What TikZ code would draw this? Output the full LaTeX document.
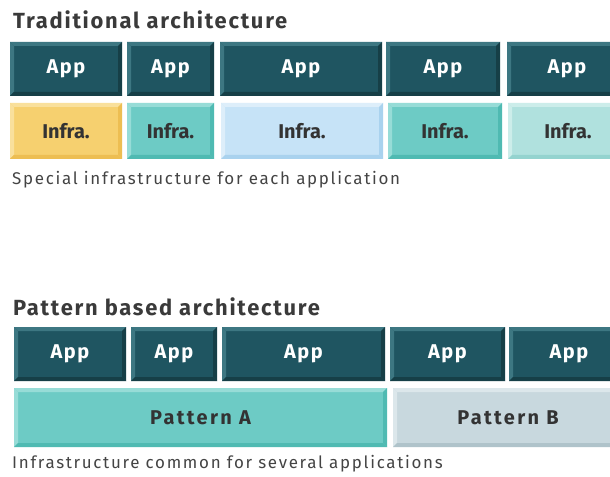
\documentclass[tikz,border=0pt]{standalone}
\usepackage{fontspec}
\setmainfont{Fira Sans}
\begin{document}
\begin{tikzpicture}[x=1bp,y=-1bp,
  bev/.style n args={3}{fill=#1, path picture={
    \fill[#2] (path picture bounding box.north west) -- (path picture bounding box.north east)
      -- ([xshift=-4bp,yshift=-4bp]path picture bounding box.north east)
      -- ([xshift=4bp,yshift=-4bp]path picture bounding box.north west) -- cycle;
    \fill[#2] (path picture bounding box.north west) -- ([xshift=4bp,yshift=-4bp]path picture bounding box.north west)
      -- ([xshift=4bp,yshift=4bp]path picture bounding box.south west)
      -- (path picture bounding box.south west) -- cycle;
    \fill[#3] (path picture bounding box.south west) -- (path picture bounding box.south east)
      -- ([xshift=-4bp,yshift=4bp]path picture bounding box.south east)
      -- ([xshift=4bp,yshift=4bp]path picture bounding box.south west) -- cycle;
    \fill[#3] (path picture bounding box.north east) -- ([xshift=-4bp,yshift=-4bp]path picture bounding box.north east)
      -- ([xshift=-4bp,yshift=4bp]path picture bounding box.south east)
      -- (path picture bounding box.south east) -- cycle;
  }},
  blk/.style={anchor=north west, inner sep=0pt, outer sep=0pt},
  app/.style={blk, bev={appc}{appl}{appd}, text=white, font=\bfseries\fontsize{20}{20}\selectfont\addfontfeature{LetterSpace=8}},
  infra/.style={blk, text=txt, font=\bfseries\fontsize{20}{20}\selectfont},
  pat/.style={blk, text=txt, font=\bfseries\fontsize{20}{20}\selectfont\addfontfeature{LetterSpace=12}},
  title/.style={anchor=west, inner sep=0pt, text=ttl, font=\bfseries\fontsize{22}{22}\selectfont\addfontfeature{LetterSpace=8}},
  caption/.style={anchor=west, inner sep=0pt, text=cap, font=\fontsize{17}{17}\selectfont\addfontfeature{LetterSpace=10}},
]
\definecolor{appc}{HTML}{1F5561}
\definecolor{appl}{HTML}{3D7782}
\definecolor{appd}{HTML}{163F47}
\definecolor{yel}{HTML}{F6D06F}\definecolor{yell}{HTML}{F9E09C}\definecolor{yeld}{HTML}{EDBE52}
\definecolor{tea}{HTML}{6DCBC5}\definecolor{teal}{HTML}{97DCD7}\definecolor{tead}{HTML}{4FBAB2}
\definecolor{blu}{HTML}{C6E3F7}\definecolor{blul}{HTML}{DDEEFA}\definecolor{blud}{HTML}{A9D2EE}
\definecolor{ltt}{HTML}{B0E1DE}\definecolor{lttl}{HTML}{CCEDEA}\definecolor{lttd}{HTML}{94D3CF}
\definecolor{gry}{HTML}{C8D8DE}\definecolor{gryl}{HTML}{DCE7EB}\definecolor{gryd}{HTML}{AFC3CA}
\definecolor{txt}{HTML}{333333}
\definecolor{ttl}{HTML}{3A3A3A}
\definecolor{cap}{HTML}{444444}
\useasboundingbox (0,0) rectangle (610,477);
\fill[white] (0,0) rectangle (610,477);
% Traditional
\node[title] (t1) at (13,20) {Traditional architecture};
\node[app, minimum width=112bp, minimum height=54bp] (a1) at (10,42) {App};
\node[app, minimum width=87bp, minimum height=54bp] (a2) at (127,42) {App};
\node[app, minimum width=162bp, minimum height=54bp] (a3) at (220,42) {App};
\node[app, minimum width=114bp, minimum height=54bp] (a4) at (386,42) {App};
\node[app, minimum width=120bp, minimum height=54bp] (a5) at (507,42) {App};
\node[infra, bev={yel}{yell}{yeld}, minimum width=112bp, minimum height=56bp] (i1) at (10,103) {Infra.};
\node[infra, bev={tea}{teal}{tead}, minimum width=87bp, minimum height=56bp] (i2) at (127,103) {Infra.};
\node[infra, bev={blu}{blul}{blud}, minimum width=162bp, minimum height=56bp] (i3) at (221,103) {Infra.};
\node[infra, bev={tea}{teal}{tead}, minimum width=114bp, minimum height=56bp] (i4) at (388,103) {Infra.};
\node[infra, bev={ltt}{lttl}{lttd}, minimum width=120bp, minimum height=56bp] (i5) at (508,103) {Infra.};
\node[caption] (c1) at (12,180) {Special infrastructure for each application};
% Pattern based
\node[title] (t2) at (13,307) {Pattern based architecture};
\node[app, minimum width=112bp, minimum height=54bp] (b1) at (14,327) {App};
\node[app, minimum width=86bp, minimum height=54bp] (b2) at (131,327) {App};
\node[app, minimum width=163bp, minimum height=54bp] (b3) at (222,327) {App};
\node[app, minimum width=115bp, minimum height=54bp] (b4) at (390,327) {App};
\node[app, minimum width=120bp, minimum height=54bp] (b5) at (509,327) {App};
\node[pat, bev={tea}{teal}{tead}, minimum width=373bp, minimum height=59bp] (pa) at (14,388) {Pattern A};
\node[pat, bev={gry}{gryl}{gryd}, minimum width=230bp, minimum height=59bp] (pb) at (393,388) {Pattern B};
\node[caption] (c2) at (12,464) {Infrastructure common for several applications};
\end{tikzpicture}
\end{document}
